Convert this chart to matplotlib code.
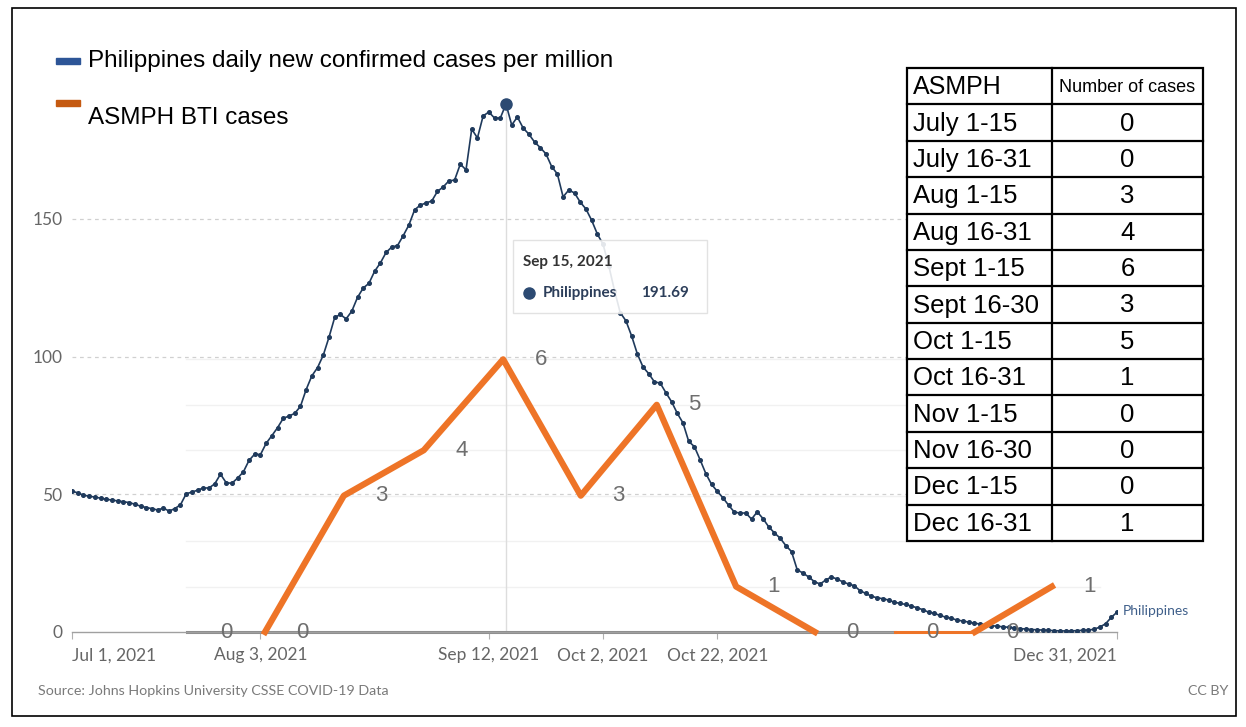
import numpy as np
import pandas as pd
import matplotlib
matplotlib.use("Agg")
import matplotlib.pyplot as plt
from matplotlib.patches import Rectangle

# Philippines daily new confirmed cases per million, 1 Jul - 31 Dec 2021
ph_cases = [
    51.2, 50.5, 49.7, 49.3, 49.0, 48.6, 48.2, 47.9, 47.6, 47.3,
    47.0, 46.4, 45.7, 45.2, 44.8, 44.3, 45.0, 43.9, 44.8, 46.2,
    50.2, 50.8, 51.5, 52.3, 52.3, 53.8, 57.3, 54.2, 54.0, 55.9,
    58.1, 62.3, 64.6, 64.4,
    68.5, 71.3, 74.2, 77.6, 78.4, 79.4,
    81.9, 88.0, 93.0, 96.0, 100.5, 107.0, 114.2, 115.3, 113.7, 116.5,
    121.5, 124.9, 126.6, 131.0, 134.0, 137.8, 139.8, 140.3, 143.9, 147.8,
    153.3, 155.0,
    155.8, 156.5, 160.0, 161.6, 163.8, 164.1, 169.9, 167.8,
    182.6, 179.4, 187.4, 188.8, 186.6, 186.6, 191.69, 184.1, 187.0, 183.0,
    180.8, 177.9, 175.9, 173.6, 169.0, 166.3, 158.0, 160.5, 159.4, 156.1,
    153.6, 149.5, 144.5,
    140.8, 133.0, 124.0, 116.0, 113.0, 107.5, 101.0,
    96.2, 93.8, 90.8, 90.4, 86.9, 83.6, 79.4, 75.9, 69.2, 67.3,
    62.5, 57.5, 53.6, 51.1, 48.7, 46.0, 43.5, 43.2, 43.2, 41.0,
    43.6, 41.2, 38.2, 36.0, 34.1, 31.4, 29.2, 22.6, 21.4, 20.0,
    18.3, 17.4, 18.9, 20.0, 19.2, 18.2, 17.4, 16.8, 15.0, 14.0,
    13.0, 12.4, 12.1, 11.6, 10.8, 10.4, 10.0, 9.4, 8.8, 8.1,
    7.2, 6.8, 6.0, 5.4, 5.0, 4.3, 4.0, 3.6, 3.2, 2.9,
    2.5, 2.3, 2.1, 1.9, 1.7, 1.5, 1.2, 1.1, 0.9, 0.8,
    0.7, 0.6, 0.5, 0.4, 0.4, 0.4, 0.5, 0.6, 0.7, 1.0,
    1.8, 3.0, 5.3, 7.2,
]
dates = pd.date_range("2021-07-01", "2021-12-31", freq="D")
assert len(ph_cases) == len(dates)

# ASMPH BTI cases per half month (table + overlay line)
periods = ["July 1-15", "July 16-31", "Aug 1-15", "Aug 16-31", "Sept 1-15", "Sept 16-30",
           "Oct 1-15", "Oct 16-31", "Nov 1-15", "Nov 16-30", "Dec 1-15", "Dec 16-31"]
bti_cases = [0, 0, 3, 4, 6, 3, 5, 1, 0, 0, 0, 1]
# where the pasted-on line puts each point (days after 1 Jul)
bti_day = [20.5, 33.8, 47.6, 61.6, 75.5, 89.1, 102.4, 116.3, 130.1, 144.1, 158.1, 171.6]
bti_scale = 16.5   # one BTI case = 16.5 units on the chart's y axis

tick_dates = ["2021-07-01", "2021-08-03", "2021-09-12", "2021-10-02", "2021-10-22", "2021-12-31"]
tick_labels = ["Jul 1, 2021", "Aug 3, 2021", "Sep 12, 2021", "Oct 2, 2021", "Oct 22, 2021", "Dec 31, 2021"]
y_ticks = [0, 50, 100, 150]

W, H = 1246, 727
BLUE = "#1f3a5c"
ORANGE = "#ee7427"
GREY = "#666666"


def px(x, y):
    # pixel position -> figure fraction
    return x / W, 1 - y / H


fig = plt.figure(figsize=(W / 100, H / 100), dpi=100)
ax = fig.add_axes([72 / W, (H - 632) / H, (1117 - 72) / W, 200 * 2.754 / H])
ax.set_xlim(dates[0], dates[-1])
ax.set_ylim(0, 200)

for s in ["top", "right", "left"]:
    ax.spines[s].set_visible(False)
ax.spines["bottom"].set_color("#a0a0a0")
ax.spines["bottom"].set_linewidth(1.0)

ax.set_yticks(y_ticks)
ax.set_yticklabels([str(v) for v in y_ticks], fontfamily="Lato", fontsize=12.5, color=GREY)
ax.tick_params(axis="y", length=0, pad=7)
for v in y_ticks[1:]:
    ax.axhline(v, color="#d0d0d0", lw=0.9, ls=(0, (3, 3)), zorder=0)

ax.set_xticks(pd.to_datetime(tick_dates))
ax.set_xticklabels(tick_labels, fontfamily="Lato", fontsize=12.5, color=GREY)
ax.tick_params(axis="x", length=5, color="#b0b0b0", pad=6)
xt = ax.get_xticklabels()
xt[0].set_ha("left")
xt[-1].set_ha("right")

# faint gridlines of the pasted-on BTI chart
bti_dates = pd.Timestamp("2021-07-01") + pd.to_timedelta(bti_day, unit="D")
bti_y = np.array(bti_cases) * bti_scale
for k in range(1, 7):
    ax.plot([bti_dates[0] - pd.Timedelta(days=0.5), dates[-1] - pd.Timedelta(days=3)],
            [k * bti_scale] * 2, color="#f1f1f1", lw=1, zorder=0)

# hover line + Philippines series
peak = int(np.argmax(ph_cases))
ax.plot([dates[peak]] * 2, [0, ph_cases[peak]], color="#dddddd", lw=1, zorder=1)
ax.plot(dates, ph_cases, color=BLUE, lw=1.2, marker="o", ms=2.6, zorder=3)
ax.plot(dates[peak], ph_cases[peak], "o", color="#2c4a72", ms=8, zorder=4)
ax.text(dates[-1] + pd.Timedelta(days=1), ph_cases[-1] + 0.5, "Philippines",
        fontfamily="Lato", fontsize=10, color="#3f5f8a", va="center", ha="left", clip_on=False)

# BTI overlay: grey baseline, orange line, number labels
ax.plot([bti_dates[0] - pd.Timedelta(days=0.3), bti_dates[9]], [0, 0], color="#8c8c8c", lw=2.2,
        zorder=2, clip_on=False)
ax.plot(bti_dates[1:9], bti_y[1:9], color=ORANGE, lw=4.5, zorder=5, clip_on=False)
ax.plot(bti_dates[10:], bti_y[10:], color=ORANGE, lw=4.5, zorder=5, clip_on=False)
ax.plot(bti_dates[9:11], bti_y[9:11], color=ORANGE, lw=2.2, zorder=5, clip_on=False)
for d, c, yv in zip(bti_dates, bti_cases, bti_y):
    ax.text(d + pd.Timedelta(days=6.6), yv, str(c), fontfamily="Liberation Sans", fontsize=16,
            color="#6e6e6e", ha="center", va="center", zorder=6, clip_on=False)

# tooltip
fig.add_artist(Rectangle(px(513, 313), 194 / W, 73 / H, transform=fig.transFigure,
                         facecolor="white", edgecolor="#dedede", lw=1, alpha=0.88, zorder=10))
fig.text(*px(523, 262), "Sep 15, 2021", fontfamily="Lato", fontweight="bold", fontsize=11,
         color="#333333", va="center", zorder=11)
fig.add_artist(plt.Line2D([529 / W], [px(0, 293)[1]], transform=fig.transFigure, marker="o",
                          ms=8, color="#2c4a72", lw=0, zorder=11))
fig.text(*px(543, 293), "Philippines", fontfamily="Lato", fontweight="bold", fontsize=11,
         color="#2c3e5a", va="center", zorder=11)
fig.text(*px(641, 293), f"{ph_cases[peak]:.2f}", fontfamily="Lato", fontweight="bold", fontsize=11,
         color="#2c3e5a", va="center", zorder=11)

# legend
legend_font = "Liberation Sans"
fig.add_artist(Rectangle(px(56, 64), 24 / W, 6 / H, transform=fig.transFigure, color="#2d5597"))
fig.text(*px(88, 61), "Philippines daily new confirmed cases per million", fontfamily=legend_font,
         fontsize=17.5, color="black", va="center")
fig.add_artist(Rectangle(px(56, 106), 24 / W, 6 / H, transform=fig.transFigure, color="#c55a11"))
fig.text(*px(88, 118), "ASMPH BTI cases", fontfamily=legend_font, fontsize=17.5, color="black",
         va="center")

# table
tx0, tx1, tmid = 907, 1203, 1052
ty0, ty1 = 68, 541
rows = len(periods) + 1
rh = (ty1 - ty0) / rows
fig.add_artist(Rectangle(px(tx0, ty1), (tx1 - tx0) / W, (ty1 - ty0) / H, transform=fig.transFigure,
                         facecolor="white", edgecolor="black", lw=1.6, zorder=12))
fig.add_artist(plt.Line2D([tmid / W] * 2, [px(0, ty0)[1], px(0, ty1)[1]], transform=fig.transFigure,
                          color="black", lw=1.6, zorder=13))
for r in range(1, rows):
    yy = px(0, ty0 + r * rh)[1]
    fig.add_artist(plt.Line2D([tx0 / W, tx1 / W], [yy, yy], transform=fig.transFigure,
                              color="black", lw=1.6, zorder=13))
table_font = "Liberation Sans"
fig.text(*px(913, ty0 + rh / 2 + 1), "ASMPH", fontfamily=table_font, fontsize=18, va="center",
         zorder=14)
fig.text(*px((tmid + tx1) / 2, ty0 + rh / 2 + 1), "Number of cases", fontfamily=table_font,
         fontsize=13, va="center", ha="center", zorder=14)
for i, (p, c) in enumerate(zip(periods, bti_cases)):
    yc = ty0 + (i + 1.5) * rh + 1
    fig.text(*px(913, yc), p, fontfamily=table_font, fontsize=18.5, va="center", zorder=14)
    fig.text(*px((tmid + tx1) / 2, yc), str(c), fontfamily=table_font, fontsize=18.5, va="center",
             ha="center", zorder=14)

# footer
fig.text(*px(38, 691), "Source: Johns Hopkins University CSSE COVID-19 Data", fontfamily="Lato",
         fontsize=10.3, color="#7a7a7a", va="center")
fig.text(*px(1228, 691), "CC BY", fontfamily="Lato", fontsize=10.3, color="#7a7a7a", va="center",
         ha="right")

# outer frame
fig.add_artist(Rectangle(px(12, 716), (1236 - 12) / W, (716 - 8) / H, transform=fig.transFigure,
                         fill=False, edgecolor="black", lw=1.2))

fig.savefig("out.png", dpi=100)
